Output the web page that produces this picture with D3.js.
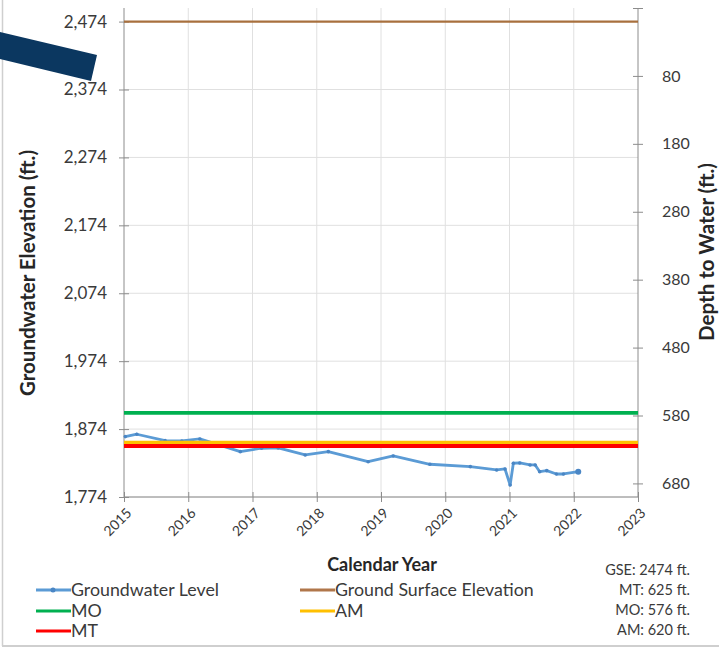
<!DOCTYPE html>
<html>
<head>
<meta charset="utf-8">
<script src="https://cdn.jsdelivr.net/npm/d3@7"></script>
<style>
  html, body { margin: 0; padding: 0; background: #ffffff; }
  svg { display: block; }
  text { font-family: Lato, "Open Sans", sans-serif; }
</style>
</head>
<body>
<script>
// ---------------- DATA ----------------
const years = [2015, 2016, 2017, 2018, 2019, 2020, 2021, 2022, 2023];
const elevTicks = [1774, 1874, 1974, 2074, 2174, 2274, 2374, 2474];
const depthTicks = [-20, 80, 180, 280, 380, 480, 580, 680];
const depthLabels = ["", "80", "180", "280", "380", "480", "580", "680"];

const gwDates = [2015.02, 2015.20, 2015.64, 2015.90, 2016.18, 2016.81, 2017.14, 2017.40,
  2017.82, 2018.18, 2018.80, 2019.19, 2019.76, 2020.39, 2020.80, 2020.93, 2021.01,
  2021.06, 2021.16, 2021.32, 2021.40, 2021.47, 2021.58, 2021.73, 2021.84, 2022.07];
const gwElev = [1862.9, 1866.4, 1857.0, 1856.5, 1859.5, 1840.8, 1845.8, 1846.2,
  1835.9, 1840.8, 1826.0, 1834.4, 1822.2, 1818.7, 1813.8, 1815.3, 1791.7,
  1823.7, 1824.1, 1821.2, 1821.2, 1811.3, 1812.8, 1807.9, 1807.9, 1811.3];

const GSE = 2474;   // ground surface elevation (ft)
const MT = 625;     // depth (ft)
const MO = 576;
const AM = 620;

const legendItems = [
  { label: "Groundwater Level", color: "#5b9bd5", marker: true },
  { label: "Ground Surface Elevation", color: "#b0764a" },
  { label: "MO", color: "#00b050" },
  { label: "AM", color: "#ffc000" },
  { label: "MT", color: "#ff0000" }
];
const notes = ["GSE: 2474 ft.", "MT: 625 ft.", "MO: 576 ft.", "AM: 620 ft."];

// ---------------- CHART ----------------
const W = 719, H = 649;
const svg = d3.select("body").append("svg").attr("width", W).attr("height", H);

const x = d3.scaleLinear().domain([2015, 2023]).range([124, 638]);
const y = d3.scaleLinear().domain([1774, 2494]).range([497, 8]);
const yDepth = d3.scaleLinear().domain([-20, 700]).range([8, 497]);

const tickColor = "#8c8c8c";
const gridColor = "#e0e0e0";
const textColor = "#3a3a3a";

// frame
svg.append("line").attr("x1", 2.5).attr("x2", 2.5).attr("y1", 0).attr("y2", 646)
  .attr("stroke", "#cfcfcf").attr("stroke-width", 1.5);
svg.append("line").attr("x1", 2).attr("x2", W).attr("y1", 646).attr("y2", 646)
  .attr("stroke", "#cfcfcf").attr("stroke-width", 2);

// gridlines
svg.append("g").selectAll("line").data(elevTicks).join("line")
  .attr("x1", x(2015)).attr("x2", x(2023))
  .attr("y1", d => y(d)).attr("y2", d => y(d))
  .attr("stroke", gridColor).attr("stroke-width", 1);
svg.append("g").selectAll("line").data(years.slice(1, -1)).join("line")
  .attr("x1", d => x(d)).attr("x2", d => x(d))
  .attr("y1", y(2494)).attr("y2", y(1774))
  .attr("stroke", gridColor).attr("stroke-width", 1);

// left axis
const leftAxis = d3.axisLeft(y).tickValues(elevTicks).tickSize(5)
  .tickFormat(d3.format(","));
const gL = svg.append("g").attr("transform", `translate(${x(2015)},0)`).call(leftAxis);
gL.select(".domain").attr("stroke", tickColor).attr("d", `M0,${y(2494)}V${y(1774)}`);
gL.selectAll(".tick line").attr("stroke", tickColor).attr("x1", -5).attr("x2", 5);
gL.selectAll(".tick text").attr("x", -17).attr("fill", textColor)
  .style("font-size", "17px").style("font-family", "Lato");

// right axis
const rightAxis = d3.axisRight(yDepth).tickValues(depthTicks).tickSize(5)
  .tickFormat((d, i) => depthLabels[i]);
const gR = svg.append("g").attr("transform", `translate(${x(2023)},0)`).call(rightAxis);
gR.select(".domain").attr("stroke", tickColor).attr("d", `M0,${yDepth(-20)}V${yDepth(700)}`);
gR.selectAll(".tick line").attr("stroke", tickColor).attr("x1", -5).attr("x2", 5);
gR.selectAll(".tick text").attr("x", 24).attr("fill", textColor)
  .style("font-size", "16px").style("font-family", "Lato");

// bottom axis
const bottomAxis = d3.axisBottom(x).tickValues(years).tickSize(5).tickFormat(d3.format("d"));
const gB = svg.append("g").attr("transform", `translate(0,${y(1774)})`).call(bottomAxis);
gB.select(".domain").attr("stroke", tickColor).attr("d", `M${x(2015)},0H${x(2023)}`);
gB.selectAll(".tick line").attr("stroke", tickColor).attr("y1", -5).attr("y2", 5);
gB.selectAll(".tick text")
  .attr("fill", textColor)
  .style("font-size", "14px").style("font-family", "Lato")
  .attr("text-anchor", "end")
  .attr("dy", null).attr("y", 0)
  .attr("transform", "translate(8,17) rotate(-45)");

// groundwater line (drawn first, under threshold lines)
const gw = gwDates.map((d, i) => ({ t: d, v: gwElev[i] }));
const line = d3.line().x(d => x(d.t)).y(d => y(d.v));
svg.append("path").datum(gw).attr("d", line)
  .attr("fill", "none").attr("stroke", "#5b9bd5").attr("stroke-width", 2.8)
  .attr("stroke-linejoin", "round");
svg.append("g").selectAll("circle").data(gw).join("circle")
  .attr("cx", d => x(d.t)).attr("cy", d => y(d.v)).attr("r", 1.8)
  .attr("fill", "#4a86c5");
svg.append("circle").attr("cx", x(gw[gw.length - 1].t)).attr("cy", y(gw[gw.length - 1].v))
  .attr("r", 3).attr("fill", "#4a86c5");

// threshold lines
function hline(elev, color, width) {
  svg.append("line").attr("x1", x(2015)).attr("x2", x(2023))
    .attr("y1", y(elev)).attr("y2", y(elev))
    .attr("stroke", color).attr("stroke-width", width);
}
hline(GSE, "#a8703e", 2.2);
hline(GSE - MO, "#00b050", 3.8);
hline(GSE - AM, "#ffc000", 4);
hline(GSE - MT, "#ff0000", 4);

// axis titles
svg.append("text")
  .attr("transform", `translate(35,273) rotate(-90)`)
  .attr("text-anchor", "middle").attr("font-weight", "bold").attr("fill", "#262626")
  .style("font-size", "20.5px").text("Groundwater Elevation (ft.)");
svg.append("text")
  .attr("transform", `translate(714,252) rotate(-90)`)
  .attr("text-anchor", "middle").attr("font-weight", "bold").attr("fill", "#262626")
  .style("font-size", "20.5px").text("Depth to Water (ft.)");
svg.append("text").attr("x", 382).attr("y", 571)
  .attr("text-anchor", "middle").attr("font-weight", "bold").attr("fill", "#262626")
  .style("font-size", "18px").text("Calendar Year");

// legend
const legPos = [
  { x: 36, y: 590 }, { x: 300, y: 590 },
  { x: 36, y: 611 }, { x: 300, y: 611 },
  { x: 36, y: 631 }
];
const leg = svg.append("g").selectAll("g").data(legendItems).join("g")
  .attr("transform", (d, i) => `translate(${legPos[i].x},${legPos[i].y})`);
leg.append("line").attr("x1", 0).attr("x2", 35).attr("y1", 0).attr("y2", 0)
  .attr("stroke", d => d.color).attr("stroke-width", 3);
leg.filter(d => d.marker).append("circle").attr("cx", 17).attr("cy", 0).attr("r", 2.5)
  .attr("fill", "#4a86c5");
leg.append("text").attr("x", 35).attr("y", 0).attr("dy", "0.35em")
  .attr("fill", textColor).style("font-size", "17.8px").text(d => d.label);

// notes
svg.append("g").selectAll("text").data(notes).join("text")
  .attr("x", 690).attr("y", (d, i) => 570 + i * 20).attr("dy", "0.35em")
  .attr("text-anchor", "end").attr("fill", textColor)
  .style("font-size", "14.5px").text(d => d);

// navy decorative band (top-left)
svg.append("path")
  .attr("d", "M0,32 L97,55 L91,81 L0,59 Z")
  .attr("fill", "#0b3760");
</script>
</body>
</html>
